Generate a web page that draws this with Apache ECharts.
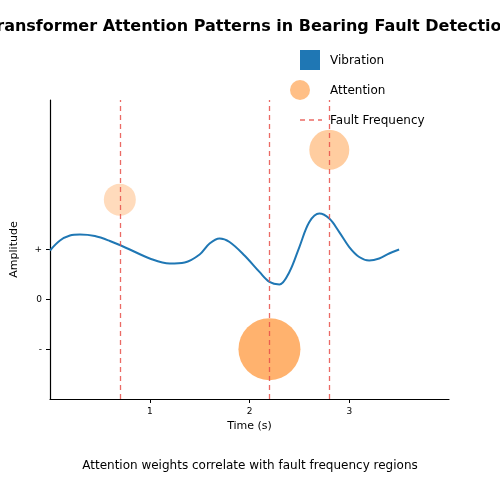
<!DOCTYPE html><html><head><meta charset="utf-8"><script src="https://cdn.jsdelivr.net/npm/echarts@6/dist/echarts.min.js"></script></head><body style="margin:0"><div id="c" style="width:500px;height:500px"></div><script>
const signalX=[0,0.1,0.2,0.3,0.45,0.6,0.8,1.0,1.2,1.35,1.5,1.6,1.7,1.8,1.95,2.1,2.2,2.3,2.4,2.5,2.6,2.7,2.8,2.9,3.0,3.1,3.2,3.3,3.4,3.5];
const signalY=[0.98,1.18,1.28,1.3,1.27,1.17,1.0,0.82,0.72,0.74,0.9,1.12,1.22,1.15,0.88,0.55,0.35,0.3,0.55,1.05,1.55,1.72,1.62,1.35,1.05,0.85,0.78,0.82,0.92,1.0];
const attnX=[0.7,2.2,2.8];
const attnY=[2.0,-1.0,3.0];
const attnW=[0.3,1.0,0.55];
const faultX=[0.7,2.2,2.8];
const xTicks=[1,2,3];
const yTicks=[-1,0,1];
const yTickLabels={'-1':'-','0':'0','1':'+'};
const F='DejaVu Sans';
const c=echarts.init(document.getElementById('c'));
c.setOption({animation:false,textStyle:{fontFamily:F},
title:{text:'Transformer Attention Patterns in Bearing Fault Detection',left:'center',top:14,textStyle:{fontSize:16,fontWeight:'bold',color:'#000',fontFamily:F}},
grid:{left:50,right:51,top:100,bottom:101},
xAxis:{type:'value',min:0,max:4,interval:1,name:'Time (s)',nameLocation:'middle',nameGap:20,nameTextStyle:{fontSize:11,color:'#000'},
axisLine:{onZero:false,lineStyle:{color:'#000',width:1.2}},axisTick:{length:4,lineStyle:{color:'#000'},customValues:xTicks},splitLine:{show:false},
axisLabel:{fontSize:9,color:'#000',customValues:xTicks,margin:8}},
yAxis:{type:'value',min:-2,max:4,interval:1,name:'Amplitude',nameLocation:'middle',nameGap:30,nameTextStyle:{fontSize:11,color:'#000'},
axisLine:{show:true,onZero:false,lineStyle:{color:'#000',width:1.2}},axisTick:{show:true,length:4,lineStyle:{color:'#000'},customValues:yTicks},splitLine:{show:false},
axisLabel:{fontSize:9,color:'#000',customValues:yTicks,formatter:v=>yTickLabels[String(v)]||''}},
series:[
{type:'line',data:signalX.map((x,i)=>[x,signalY[i]]),smooth:0.35,showSymbol:false,lineStyle:{color:'#1f77b4',width:2},z:3},
{type:'line',data:[],markLine:{silent:true,symbol:'none',label:{show:false},lineStyle:{color:'#e8504a',type:[5,4],width:1.3,opacity:0.85},data:faultX.map(x=>({xAxis:x}))},z:4},
{type:'scatter',data:attnX.map((x,i)=>[x,attnY[i],attnW[i]]),symbolSize:d=>({0.3:32,1.0:62,0.55:40})[d[2]],
itemStyle:{color:p=>'rgba(255,127,14,'+(0.18+0.57*p.data[2]).toFixed(2)+')'},z:2}
],
graphic:[
{type:'rect',shape:{x:300,y:50,width:20,height:20},style:{fill:'#1f77b4'}},
{type:'text',x:330,y:61,style:{text:'Vibration',fontSize:12,fontFamily:F,fill:'#000',textVerticalAlign:'middle'}},
{type:'circle',shape:{cx:300,cy:90,r:10},style:{fill:'rgba(255,127,14,0.5)'}},
{type:'text',x:330,y:91,style:{text:'Attention',fontSize:12,fontFamily:F,fill:'#000',textVerticalAlign:'middle'}},
{type:'line',shape:{x1:300,y1:120,x2:322,y2:120},style:{stroke:'#e8504a',lineDash:[5,4],lineWidth:1.3,opacity:0.85}},
{type:'text',x:330,y:121,style:{text:'Fault Frequency',fontSize:12,fontFamily:F,fill:'#000',textVerticalAlign:'middle'}},
{type:'text',x:250,y:466,style:{text:'Attention weights correlate with fault frequency regions',fontSize:12,fontFamily:F,fill:'#000',textAlign:'center',textVerticalAlign:'middle'}}
]});
</script></body></html>
